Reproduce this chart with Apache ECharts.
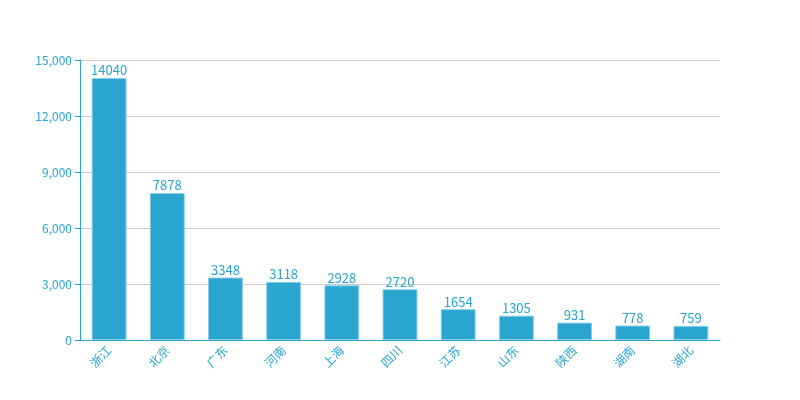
<!DOCTYPE html>
<html><head><meta charset="utf-8">
<script src="https://cdn.jsdelivr.net/npm/echarts@6/dist/echarts.min.js"></script>
<style>html,body{margin:0;padding:0;background:#fff}#c{width:800px;height:400px}</style>
</head><body><div id="c"></div>
<script>
const categories = ['浙江','北京','广东','河南','上海','四川','江苏','山东','陕西','湖南','湖北'];
const values = [14040,7878,3348,3118,2928,2720,1654,1305,931,778,759];
const chart = echarts.init(document.getElementById('c'));
const blue = '#29a5d0';
chart.setOption({
  animation:false,
  textStyle:{fontFamily:'"Noto Sans CJK SC", "Open Sans", sans-serif'},
  grid:{left:80,right:80,top:60,bottom:60},
  xAxis:{type:'category',data:categories,
    axisLine:{lineStyle:{color:blue}},
    axisTick:{alignWithLabel:true,lineStyle:{color:blue}},
    axisLabel:{color:blue,rotate:45,fontSize:12,margin:8}},
  yAxis:{type:'value',min:0,max:15000,interval:3000,
    axisLine:{show:true,lineStyle:{color:blue}},
    axisTick:{show:true,lineStyle:{color:blue}},
    axisLabel:{color:blue,fontSize:12},
    splitLine:{lineStyle:{color:'#cccccc'}}},
  series:[{type:'bar',data:values,barWidth:'60%',
    itemStyle:{color:blue,borderColor:'#8fd0e8',borderWidth:1},
    label:{show:true,position:'top',color:blue,fontSize:13,distance:1}}]
});
</script></body></html>
